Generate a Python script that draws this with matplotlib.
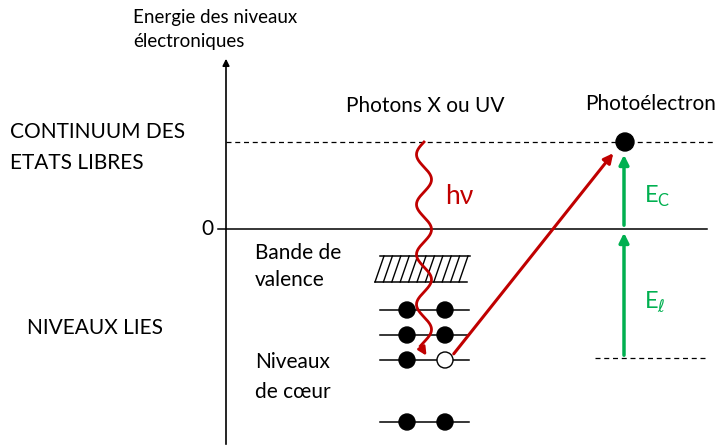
import numpy as np
import matplotlib.pyplot as plt
from matplotlib.patches import Circle

plt.rcParams['font.family'] = ['Lato', 'DejaVu Sans']

RED = '#C00000'
GREEN = '#00B050'

# positions en pixels de l'image (y vers le bas)
axis_x = 226
y_continuum = 142
y_zero = 229
levels_y = [310, 335, 360, 422]
dots_x = [407, 445]
open_dot = (2, 1)          # (niveau, électron) laissé vide
band_top, band_bot = 256, 282
y_core = 358
x_elec = 624

fig = plt.figure(figsize=(7.24, 4.47), dpi=100)
ax = fig.add_axes([0, 0, 1, 1])
ax.set_xlim(0, 724)
ax.set_ylim(447, 0)
ax.axis('off')

# axe des energies
ax.annotate('', xy=(axis_x, 56), xytext=(axis_x, 447),
            arrowprops=dict(arrowstyle='-|>', color='black', lw=1.2, mutation_scale=10))
ax.text(133, 17, 'Energie des niveaux', fontsize=13.5, va='center')
ax.text(133, 42, 'électroniques', fontsize=13.5, va='center')

# niveau zero et continuum
ax.plot([218, 707], [y_zero, y_zero], color='black', lw=1.1)
ax.text(213, y_zero, '0', fontsize=15, ha='right', va='center')
ax.plot([axis_x, 715], [y_continuum, y_continuum], color='black', lw=0.9, ls=(0, (4, 3)))
ax.plot([595, 708], [y_core, y_core], color='black', lw=0.9, ls=(0, (4, 3)))

fs = 15
ax.text(10, 132, 'CONTINUUM DES', fontsize=fs, va='center')
ax.text(10, 163, 'ETATS LIBRES', fontsize=fs, va='center')
ax.text(27, 328, 'NIVEAUX LIES', fontsize=fs, va='center')
ax.text(425, 106, 'Photons X ou UV', fontsize=fs, ha='center', va='center')
ax.text(585, 104, 'Photoélectron', fontsize=fs, va='center')
ax.text(255, 253, 'Bande de', fontsize=fs, va='center')
ax.text(255, 280, 'valence', fontsize=fs, va='center')
ax.text(255, 362, 'Niveaux', fontsize=fs, va='center')
ax.text(255, 392, 'de cœur', fontsize=fs, va='center')

# bande de valence hachuree
ax.plot([380, 470], [band_top, band_top], color='black', lw=1.1)
ax.plot([375, 467], [band_bot, band_bot], color='black', lw=1.1)
for xb in np.arange(375, 460, 8.4):
    ax.plot([xb, xb + 9], [band_bot, band_top], color='black', lw=1.0)

# niveaux de coeur
for i, yl in enumerate(levels_y):
    ax.plot([380, 469], [yl, yl], color='black', lw=1.1, zorder=2)
    for j, xd in enumerate(dots_x):
        face = 'white' if (i, j) == open_dot else 'black'
        ax.add_patch(Circle((xd, yl), 8, facecolor=face, edgecolor='black', lw=1.0, zorder=3))

# photon incident (ondulation)
yw = np.linspace(y_continuum, 346, 400)
xw = 424 - 7.5 * np.sin(2 * np.pi * (yw - y_continuum) / 50)
ax.plot(xw, yw, color=RED, lw=2, zorder=4)
ax.annotate('', xy=(428, 358), xytext=(xw[-1], yw[-1]),
            arrowprops=dict(arrowstyle='-|>', color=RED, lw=2, mutation_scale=12), zorder=4)
ax.text(445, 197, 'hν', fontsize=19, color=RED, va='center')

# ejection du photoelectron
ax.annotate('', xy=(615, 151), xytext=(452, 356),
            arrowprops=dict(arrowstyle='-|>', color=RED, lw=2.2, mutation_scale=14), zorder=4)
ax.add_patch(Circle((x_elec + 1, y_continuum), 9, color='black', zorder=5))

# energies
ax.annotate('', xy=(x_elec, 152), xytext=(x_elec, y_zero - 1),
            arrowprops=dict(arrowstyle='-|>', color=GREEN, lw=2.5, mutation_scale=14))
ax.annotate('', xy=(x_elec, 230), xytext=(x_elec, y_core),
            arrowprops=dict(arrowstyle='-|>', color=GREEN, lw=2.5, mutation_scale=14))
ax.text(644, 196, r'E$_\mathregular{C}$', fontsize=17, color=GREEN, va='center')
ax.text(644, 302, r'E$_\ell$', fontsize=17, color=GREEN, va='center')

fig.savefig('out.png', dpi=100)
